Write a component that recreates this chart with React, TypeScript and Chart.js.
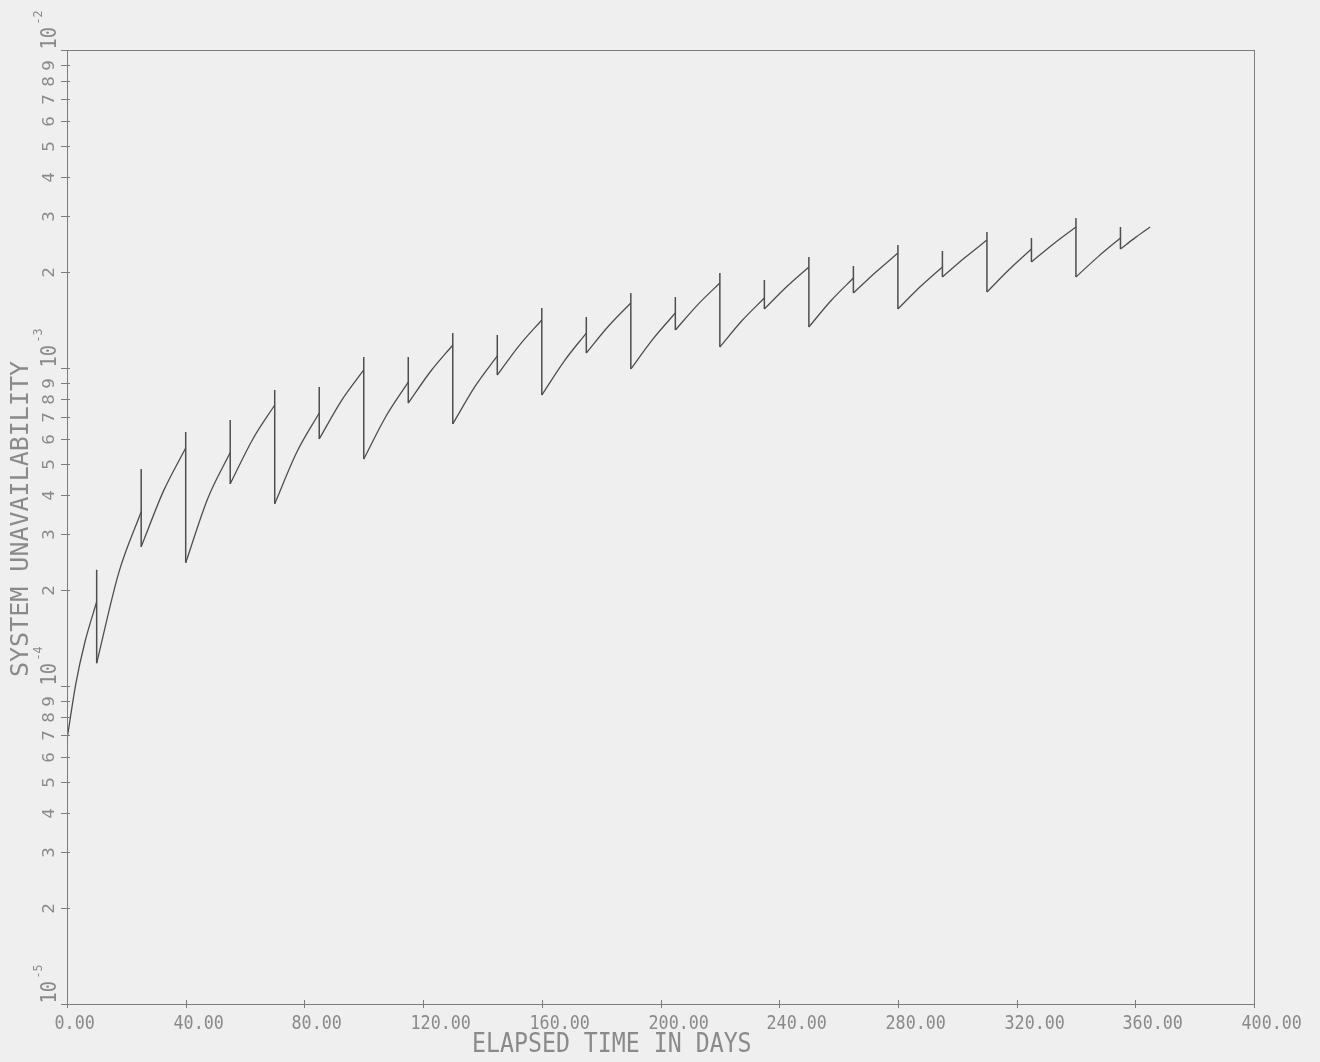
import React, { useEffect, useRef } from "react";
import { Chart, registerables } from "chart.js";

Chart.register(...registerables);

// ---- data ----
const startDay = 0;
const startValue = 6.8e-5;
const earlyDays = [3, 6];
const earlyValues = [1.02e-4, 1.37e-4];

const testDays = [10, 25, 40, 55, 70, 85, 100, 115, 130, 145, 160, 175, 190, 205, 220, 235, 250, 265, 280, 295, 310, 325, 340, 355];
const preTest = [1.84e-4, 3.53e-4, 5.6e-4, 5.42e-4, 7.65e-4, 7.22e-4, 9.86e-4, 9.03e-4, 1.181e-3, 1.091e-3, 1.416e-3, 1.288e-3, 1.601e-3, 1.489e-3, 1.851e-3, 1.66e-3, 2.078e-3, 1.919e-3, 2.299e-3, 2.078e-3, 2.526e-3, 2.367e-3, 2.776e-3, 2.564e-3];
const spikeTop = [2.32e-4, 4.81e-4, 6.29e-4, 6.86e-4, 8.53e-4, 8.71e-4, 1.083e-3, 1.083e-3, 1.288e-3, 1.27e-3, 1.544e-3, 1.446e-3, 1.721e-3, 1.672e-3, 1.99e-3, 1.891e-3, 2.234e-3, 2.093e-3, 2.437e-3, 2.333e-3, 2.677e-3, 2.564e-3, 2.962e-3, 2.776e-3];
const postTest = [1.18e-4, 2.74e-4, 2.44e-4, 4.32e-4, 3.74e-4, 5.98e-4, 5.17e-4, 7.76e-4, 6.67e-4, 9.5e-4, 8.22e-4, 1.115e-3, 9.93e-4, 1.317e-3, 1.164e-3, 1.533e-3, 1.346e-3, 1.721e-3, 1.533e-3, 1.933e-3, 1.734e-3, 2.155e-3, 1.933e-3, 2.367e-3];
const midDays = [17.5, 32.5, 47.5, 62.5, 77.5, 92.5, 107.5, 122.5, 137.5, 152.5, 167.5, 182.5, 197.5, 212.5, 227.5, 242.5, 257.5, 272.5, 287.5, 302.5, 317.5, 332.5, 347.5, 360];
const midValues = [2.28e-4, 4.1e-4, 3.9e-4, 5.95e-4, 5.45e-4, 7.9e-4, 7.05e-4, 9.75e-4, 8.75e-4, 1.18e-3, 1.05e-3, 1.355e-3, 1.235e-3, 1.58e-3, 1.41e-3, 1.8e-3, 1.63e-3, 2.0e-3, 1.8e-3, 2.22e-3, 2.04e-3, 2.46e-3, 2.24e-3, 2.57e-3];
const endDay = 365;
const endValue = 2.776e-3;

// ---- axes ----
const xTickValues = [0, 40, 80, 120, 160, 200, 240, 280, 320, 360, 400];
const xTickLabels = ["0.00", "40.00", "80.00", "120.00", "160.00", "200.00", "240.00", "280.00", "320.00", "360.00", "400.00"];
const yDecadeExponents = [-5, -4, -3, -2];
const yMinorDigits = [2, 3, 4, 5, 6, 7, 8, 9];
const xTitle = "ELAPSED TIME IN DAYS";
const yTitle = "SYSTEM UNAVAILABILITY";

const PAPER = "#efefef";
const INK = "#8a8a8a";
const AXIS = "#7c7c7c";
const CURVE = "#4e4e4e";
const FONT = '"DejaVu Sans Mono", "Liberation Mono", monospace';

function drawText(ctx: CanvasRenderingContext2D, s: string, x: number, y: number, size: number, sx: number, rot: number, align: CanvasTextAlign) {
  ctx.save();
  ctx.translate(x, y);
  if (rot) ctx.rotate(rot);
  ctx.scale(sx, 1);
  ctx.font = `${size}px ${FONT}`;
  ctx.textAlign = align;
  ctx.textBaseline = "middle";
  ctx.fillStyle = INK;
  ctx.fillText(s, 0, 0);
  ctx.restore();
}

const paperPlugin = {
  id: "paper",
  beforeDraw(chart: any) {
    const ctx = chart.ctx as CanvasRenderingContext2D;
    ctx.save();
    ctx.fillStyle = PAPER;
    ctx.fillRect(0, 0, chart.width, chart.height);
    ctx.restore();
  },
  afterDraw(chart: any) {
    const ctx = chart.ctx as CanvasRenderingContext2D;
    const a = chart.chartArea;
    const xs = chart.scales.x;
    const ys = chart.scales.y;
    ctx.save();
    ctx.strokeStyle = AXIS;
    ctx.lineWidth = 1;
    ctx.strokeRect(Math.round(a.left) + 0.5, Math.round(a.top) + 0.5, Math.round(a.right - a.left), Math.round(a.bottom - a.top));

    // x ticks + labels
    xTickValues.forEach((v, i) => {
      const px = Math.round(xs.getPixelForValue(v)) + 0.5;
      ctx.beginPath();
      ctx.moveTo(px, a.bottom - 4);
      ctx.lineTo(px, a.bottom + 4);
      ctx.stroke();
      drawText(ctx, xTickLabels[i], px - 13, a.bottom + 20, 19, 0.88, 0, "left");
    });

    // y ticks + labels
    const up = -Math.PI / 2;
    yDecadeExponents.forEach((e, k) => {
      const base = Math.pow(10, e);
      const py = Math.round(ys.getPixelForValue(base)) + 0.5;
      ctx.beginPath();
      ctx.moveTo(a.left - 6, py);
      ctx.lineTo(a.left + 3, py);
      ctx.stroke();
      drawText(ctx, "10", 50, py - 1, 22, 0.85, up, "left");
      drawText(ctx, String(e), 39, py - 26, 13, 0.9, up, "left");
      if (k < yDecadeExponents.length - 1) {
        yMinorDigits.forEach((d) => {
          const my = Math.round(ys.getPixelForValue(d * base)) + 0.5;
          ctx.beginPath();
          ctx.moveTo(a.left - 6, my);
          ctx.lineTo(a.left + 3, my);
          ctx.stroke();
          drawText(ctx, String(d), 50, my, 16, 1.1, up, "center");
        });
      }
    });

    // titles
    drawText(ctx, xTitle, 472, 1045, 27, 0.86, 0, "left");
    drawText(ctx, yTitle, 21, 677, 25, 1.0, up, "left");
    ctx.restore();
  },
};

export default function App() {
  const ref = useRef<HTMLCanvasElement>(null);
  useEffect(() => {
    if (!ref.current) return;
    const rising: any[] = [];
    rising.push({ x: startDay, y: startValue });
    earlyDays.forEach((d, i) => rising.push({ x: d, y: earlyValues[i] }));
    rising.push({ x: testDays[0], y: preTest[0] });
    rising.push({ x: testDays[0], y: null });
    testDays.forEach((t, i) => {
      rising.push({ x: t, y: postTest[i] });
      rising.push({ x: midDays[i], y: midValues[i] });
      if (i < testDays.length - 1) {
        rising.push({ x: testDays[i + 1], y: preTest[i + 1] });
        rising.push({ x: testDays[i + 1], y: null });
      } else {
        rising.push({ x: endDay, y: endValue });
      }
    });
    const spikes: any[] = [];
    testDays.forEach((t, i) => {
      spikes.push({ x: t, y: preTest[i] });
      spikes.push({ x: t, y: spikeTop[i] });
      spikes.push({ x: t, y: postTest[i] });
      spikes.push({ x: t, y: null });
    });

    const chart = new Chart(ref.current, {
      type: "line",
      data: {
        datasets: [
          {
            data: rising,
            borderColor: CURVE,
            borderWidth: 1.3,
            pointRadius: 0,
            cubicInterpolationMode: "monotone",
            spanGaps: false,
            fill: false,
          },
          {
            data: spikes,
            borderColor: CURVE,
            borderWidth: 1.5,
            pointRadius: 0,
            tension: 0,
            spanGaps: false,
            fill: false,
          },
        ],
      },
      options: {
        animation: false,
        responsive: false,
        devicePixelRatio: 1,
        parsing: true,
        layout: { padding: { top: 50, right: 66, left: 0, bottom: 0 } },
        plugins: { legend: { display: false }, tooltip: { enabled: false }, title: { display: false } },
        scales: {
          x: {
            type: "linear",
            min: 0,
            max: 400,
            grid: { display: false },
            border: { display: false },
            ticks: { display: false },
            afterFit: (s: any) => { s.height = 58; },
          },
          y: {
            type: "logarithmic",
            min: 1e-5,
            max: 1e-2,
            grid: { display: false },
            border: { display: false },
            ticks: { display: false },
            afterFit: (s: any) => { s.width = 67; },
          },
        },
      } as any,
      plugins: [paperPlugin],
    });
    return () => chart.destroy();
  }, []);

  return (
    <div style={{ position: "absolute", left: 0, top: 0, width: 1320, height: 1062, background: PAPER }}>
      <canvas ref={ref} width={1320} height={1062} style={{ display: "block", width: 1320, height: 1062 }} />
    </div>
  );
}
